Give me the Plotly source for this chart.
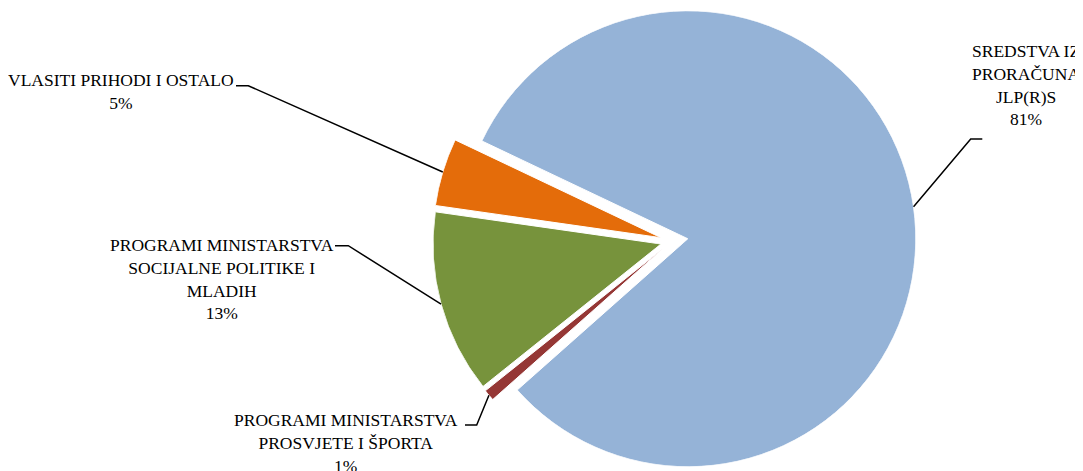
import math
import plotly.graph_objects as go

# ---------------- data ----------------
categories = [
    "SREDSTVA IZ PRORAČUNA JLP(R)S",
    "PROGRAMI MINISTARSTVA PROSVJETE I ŠPORTA",
    "PROGRAMI MINISTARSTVA SOCIJALNE POLITIKE I MLADIH",
    "VLASITI PRIHODI I OSTALO",
]
label_lines = [
    "SREDSTVA IZ<br>PRORAČUNA<br>JLP(R)S",
    "PROGRAMI MINISTARSTVA<br>PROSVJETE I ŠPORTA",
    "PROGRAMI MINISTARSTVA<br>SOCIJALNE POLITIKE I<br>MLADIH",
    "VLASITI PRIHODI I OSTALO",
]
shares = [81.4, 0.8, 13.0, 4.8]
colors = ["#95B3D7", "#953735", "#77933C", "#E46C0A"]

# ---------------- layout / style ----------------
W, H = 1083, 471
OFF = 8.0                  # page body margin: page px -> figure px
CX, CY = 672.0, 241.0      # pie centre (page px)
R = 228.0                  # pie radius (px)
START = 295.4              # first slice start, degrees clockwise from 12 o'clock
pulls = [0.07, 0.05, 0.05, 0.05]
PAD = 2.0
FONT = "Liberation Serif"
FONT_SIZE = 17.5

# label block centres (page px) and leader elbows (page px)
label_pos = [(1026, 85), (346, 443), (222, 279), (121, 92)]
elbows = [
    [(970.7, 139.0), (982.3, 139.0)],
    [(476.7, 425.0), (465.0, 425.0)],
    [(348.3, 245.7), (335.0, 245.7)],
    [(248.3, 85.7), (236.0, 85.7)],
]


def fx(px):
    return (px - OFF) / W


def fy(py):
    return 1 - (py - OFF) / H


def pmod(v, d):
    return ((v % d) + d) % d


def sector_bbox(s0, s1):
    arc = s1 - s0
    a0 = pmod(s0, 360)
    a1 = a0 + arc
    ax0, ay0 = math.cos(math.radians(a0)), math.sin(math.radians(a0))
    ax1, ay1 = math.cos(math.radians(a1)), math.sin(math.radians(a1))
    if (a0 <= 90 and a1 >= 90) or (a0 > 90 and a1 >= 450):
        y1 = 1
    elif ay0 <= 0 and ay1 <= 0:
        y1 = 0
    else:
        y1 = max(ay0, ay1)
    if (a0 <= 180 and a1 >= 180) or (a0 > 180 and a1 >= 540):
        x0 = -1
    elif ax0 >= 0 and ax1 >= 0:
        x0 = 0
    else:
        x0 = min(ax0, ax1)
    if (a0 <= 270 and a1 >= 270) or (a0 > 270 and a1 >= 630):
        y0 = -1
    elif ay0 >= 0 and ay1 >= 0:
        y0 = 0
    else:
        y0 = min(ay0, ay1)
    if a1 >= 360:
        x1 = 1
    elif ax0 <= 0 and ax1 <= 0:
        x1 = 0
    else:
        x1 = max(ax0, ax1)
    return x0, y0, x1, y1


def clamp(v):
    return min(1.0, max(0.0, v))


fig = go.Figure()
layout_polars = {}
shapes = []
annotations = []

total = sum(shares)
cum = 0.0
for i, v in enumerate(shares):
    span = v / total * 360.0
    a = START + cum
    b = a + span
    mid = a + span / 2.0
    cum += span

    ang = math.radians(90.0 - mid)
    pull_px = pulls[i] * R
    cx = CX + pull_px * math.cos(ang)
    cy = CY - pull_px * math.sin(ang)

    s0 = 90.0 - b - PAD
    s1 = 90.0 - a + PAD
    bx0, by0, bx1, by1 = sector_bbox(s0, s1)
    left, right = cx + R * bx0, cx + R * bx1
    top, bottom = cy - R * by1, cy - R * by0

    key = "polar" if i == 0 else f"polar{i + 1}"
    layout_polars[key] = dict(
        domain=dict(x=[clamp(fx(left)), clamp(fx(right))],
                    y=[clamp(fy(bottom)), clamp(fy(top))]),
        sector=[s0, s1],
        bgcolor="rgba(0,0,0,0)",
        bargap=0,
        hole=0,
        radialaxis=dict(range=[0, 1], visible=False, showline=False,
                        showgrid=False, showticklabels=False, ticks=""),
        angularaxis=dict(visible=False, rotation=90, direction="clockwise",
                         showline=False, showgrid=False,
                         showticklabels=False, ticks=""),
    )
    fig.add_trace(go.Barpolar(
        r=[1], theta=[mid], width=[span],
        marker=dict(color=colors[i], line=dict(color="white", width=1)),
        subplot=key, showlegend=False, name=categories[i],
        hovertemplate=f"{categories[i]}: {v}%<extra></extra>",
    ))

    # leader line from slice edge (mid angle) to label
    ex = cx + R * math.cos(ang)
    ey = cy - R * math.sin(ang)
    pts = [(ex, ey)] + elbows[i]
    path = "M " + " L ".join(f"{fx(px):.6f},{fy(py):.6f}" for px, py in pts)
    shapes.append(dict(type="path", xref="paper", yref="paper", path=path,
                       line=dict(color="black", width=1.5)))

    pct = f"{round(v / total * 100):.0f}%"
    lx, ly = label_pos[i]
    annotations.append(dict(
        x=fx(lx), y=fy(ly), xref="paper", yref="paper",
        text=label_lines[i] + "<br>" + pct, showarrow=False,
        xanchor="center", yanchor="middle", align="center",
        font=dict(family=FONT, size=FONT_SIZE, color="black"),
    ))

fig.update_layout(
    width=W, height=H,
    margin=dict(l=0, r=0, t=0, b=0),
    paper_bgcolor="white", plot_bgcolor="white",
    showlegend=False,
    shapes=shapes,
    annotations=annotations,
    **layout_polars,
)

fig.write_html("out.html")
